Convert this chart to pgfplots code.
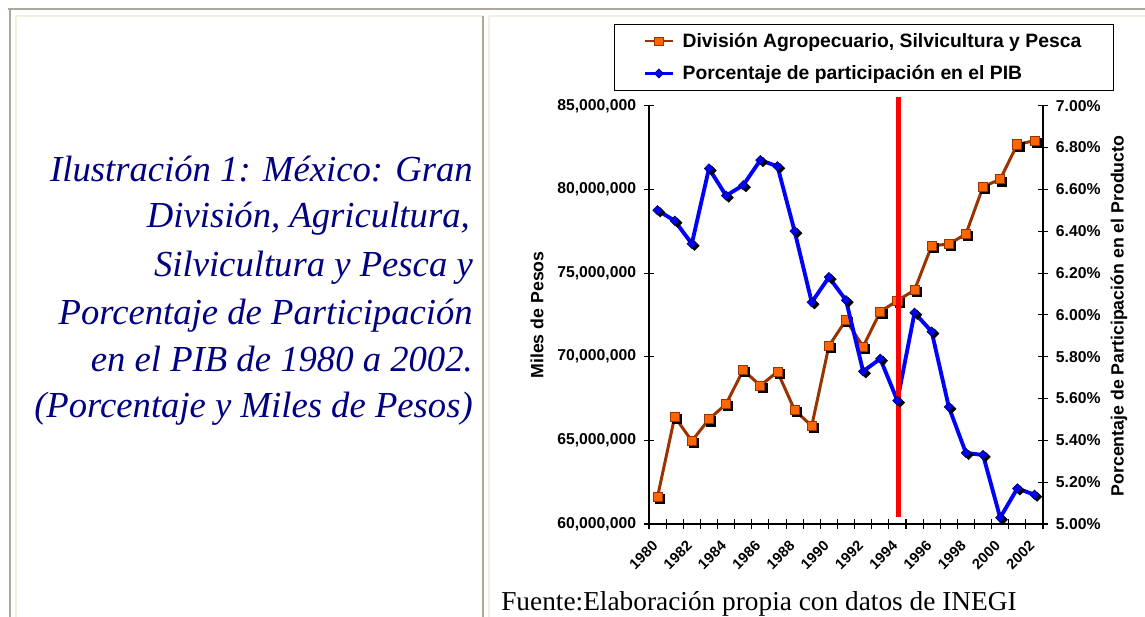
\documentclass[border=0pt]{standalone}
\usepackage{fontspec}
\setmainfont{Liberation Sans}
\newfontfamily\timesfont{Liberation Serif}
\usepackage{pgfplots}
\pgfplotsset{compat=1.18}
\usepackage{pgfplotstable}

\definecolor{lineBrown}{RGB}{153,51,0}
\definecolor{markOrange}{RGB}{255,102,0}
\definecolor{frameGray}{RGB}{172,168,153}
\definecolor{frameBeige}{RGB}{241,239,226}
\definecolor{navyText}{RGB}{0,0,128}

\pgfplotstableread{
idx year value
0 1980 61630000
1 1981 66410000
2 1982 64960000
3 1983 66260000
4 1984 67170000
5 1985 69200000
6 1986 68270000
7 1987 69100000
8 1988 66810000
9 1989 65860000
10 1990 70640000
11 1991 72190000
12 1992 70600000
13 1993 72690000
14 1994 73350000
15 1995 73980000
16 1996 76630000
17 1997 76730000
18 1998 77330000
19 1999 80160000
20 2000 80600000
21 2001 82690000
22 2002 82910000
}\agrodata

\pgfplotstableread{
idx year pct
0 1980 6.50
1 1981 6.45
2 1982 6.34
3 1983 6.70
4 1984 6.57
5 1985 6.62
6 1986 6.74
7 1987 6.71
8 1988 6.40
9 1989 6.06
10 1990 6.18
11 1991 6.07
12 1992 5.73
13 1993 5.79
14 1994 5.59
15 1995 6.01
16 1996 5.92
17 1997 5.56
18 1998 5.34
19 1999 5.33
20 2000 5.03
21 2001 5.17
22 2002 5.14
}\pibdata

\pgfplotsset{
  common/.style={
    at={(486.75pt,69.75pt)}, anchor=south west,
    scale only axis, width=295.5pt, height=313.7pt,
    xmin=-0.5, xmax=22.5,
    axis line style={black, line width=0.8pt},
    tick align=center,
    major tick length=7pt, minor tick length=7pt,
    tick style={black, line width=0.8pt},
  }
}

\begin{document}
\begin{tikzpicture}[x=0.75pt,y=0.75pt]
\useasboundingbox (0,0) rectangle (1145,617);
% page frame
\draw[frameGray, line width=1.5pt] (8,608) -- (1145,608);
\draw[frameGray, line width=1.5pt] (10,608) -- (10,0);
\draw[frameBeige, line width=1.5pt] (16,601) -- (483,601);
\draw[frameBeige, line width=1.5pt] (16,601) -- (16,0);
\draw[frameGray, line width=1.5pt] (483,601) -- (483,0);
\draw[frameBeige, line width=1.5pt] (489,601) -- (1145,601);
\draw[frameBeige, line width=1.5pt] (489,601) -- (489,0);

% left caption
\begin{scope}[every node/.style={anchor=base east, inner sep=0pt, text=navyText, font=\timesfont\fontsize{27.5}{33}\selectfont\itshape}]
\node at (473,435) {Ilustración 1: México: Gran};
\node at (470,389) {División, Agricultura,};
\node at (473,340.3) {Silvicultura y Pesca y};
\node at (473,292) {Porcentaje de Participación};
\node at (473,245.3) {en el PIB de 1980 a 2002.};
\node at (473,199) {(Porcentaje y Miles de Pesos)};
\end{scope}

\begin{axis}[common,
  ymin=60000000, ymax=85000000,
  axis x line*=bottom, axis y line*=left,
  xtick={0,2,...,22},
  xticklabels={1980,1982,1984,1986,1988,1990,1992,1994,1996,1998,2000,2002},
  minor xtick={-0.5,0.5,...,22.5},
  major x tick style={draw=none},
  xticklabel style={font=\fontsize{11}{13}\selectfont\bfseries, inner sep=0pt, xshift=-4.7pt, yshift=-8pt, rotate=45, anchor=north east},
  ytick={60000000,65000000,70000000,75000000,80000000,85000000},
  yticklabels={{60,000,000},{65,000,000},{70,000,000},{75,000,000},{80,000,000},{85,000,000}},
  scaled y ticks=false,
  yticklabel style={font=\fontsize{11.8}{14}\selectfont\bfseries, inner sep=0pt, xshift=-6pt},
  clip=false,
]
\addplot[lineBrown, line width=2.25pt, forget plot] table[x=idx,y=value]{\agrodata};
\addplot[only marks, mark=square*, mark size=3.4pt, mark options={fill=black, draw=black, xshift=1.5pt, yshift=-1.5pt}, forget plot] table[x=idx,y=value]{\agrodata};
\addplot[only marks, mark=square*, mark size=3.4pt, mark options={fill=markOrange, draw=lineBrown, line width=0.6pt}, forget plot] table[x=idx,y=value]{\agrodata};
\end{axis}

\begin{axis}[common,
  ymin=5, ymax=7,
  axis x line=none, axis y line*=right,
  ytick={5,5.2,5.4,5.6,5.8,6,6.2,6.4,6.6,6.8,7},
  yticklabels={5.00\%,5.20\%,5.40\%,5.60\%,5.80\%,6.00\%,6.20\%,6.40\%,6.60\%,6.80\%,7.00\%},
  yticklabel style={font=\fontsize{11.8}{14}\selectfont\bfseries, inner sep=0pt, xshift=6pt},
  clip=false,
  legend style={at={(axis description cs:-0.0888,1.1953)}, anchor=north west,
    draw=black, line width=0.75pt, fill=white,
    font=\fontsize{14.5}{17}\selectfont\bfseries,
    inner xsep=22pt, inner ysep=4.5pt, row sep=8pt,
    /tikz/every odd column/.append style={column sep=4.5pt}},
  legend cell align=left,
  legend image code/.code={\draw[mark repeat=2,mark phase=2,#1] plot coordinates {(0pt,0pt) (10.5pt,0pt) (21pt,0pt)};},
]
\addlegendimage{lineBrown, line width=1.6pt, mark=square*, mark size=3.2pt, mark options={fill=markOrange, draw=lineBrown, line width=0.6pt}}
\addlegendentry{División Agropecuario, Silvicultura y Pesca}
\addlegendimage{blue, line width=1.6pt, mark=diamond*, mark size=3.4pt, mark options={fill=blue, draw=blue!40!black, line width=0.5pt, xscale=1.33}}
\addlegendentry{Porcentaje de participación en el PIB}
\addplot[blue, line width=2.9pt, forget plot] table[x=idx,y=pct]{\pibdata};
\addplot[only marks, mark=diamond*, mark size=3.5pt, mark options={fill=black, draw=black, xscale=1.33, xshift=1.5pt, yshift=-1.5pt}, forget plot] table[x=idx,y=pct]{\pibdata};
\addplot[only marks, mark=diamond*, mark size=3.5pt, mark options={fill=blue, draw=blue!40!black, line width=0.5pt, xscale=1.33}, forget plot] table[x=idx,y=pct]{\pibdata};
\addplot[red, line width=4.1pt, forget plot] coordinates {(14.05,5.032) (14.05,7.044)};
\end{axis}

% axis titles
\node[rotate=90, font=\fontsize{13.3}{16}\selectfont\bfseries] at (537,302) {Miles de Pesos};
\node[rotate=90, font=\fontsize{13.3}{16}\selectfont\bfseries] at (1119,301) {Porcentaje de Participación en el Producto};

% source
\node[anchor=base west, inner sep=0pt, font=\timesfont\fontsize{20.5}{24}\selectfont] at (501,7) {Fuente:Elaboración propia con datos de INEGI};
\end{tikzpicture}
\end{document}
